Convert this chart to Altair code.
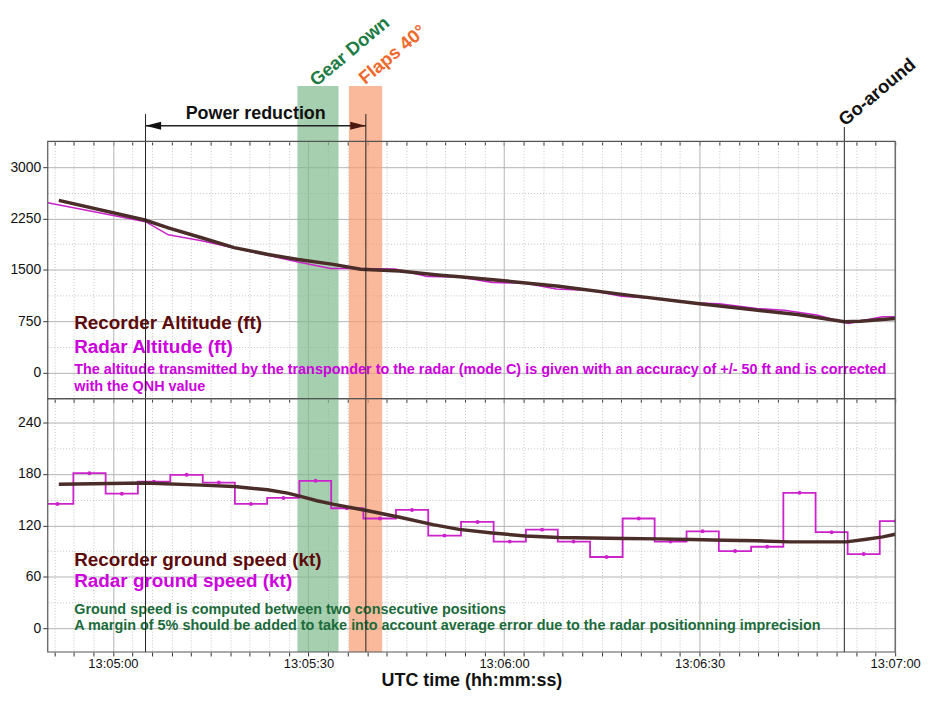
import altair as alt
import pandas as pd

# time axis: seconds after 13:00:00
X_DOMAIN = [290, 420]

# ---------------- Altitude (ft) ----------------
rec_alt_t = [291.7, 304.9, 308.5, 313.6, 318.6, 323.8, 328.4, 333.8, 338.0, 344.0, 350.2,
             353.2, 360.0, 368.4, 378.7, 390.0, 397.9, 405.0, 412.2, 414.6, 420.0]
rec_alt_v = [2514, 2227, 2112, 1968, 1825, 1724, 1652, 1580, 1509, 1484, 1422,
             1398, 1341, 1260, 1135, 1006, 920, 848, 743, 751, 790]

radar_alt_t = [290.0, 305.0, 308.5, 313.6, 318.6, 323.8, 328.4, 333.4, 336.0, 343.3, 348.2,
               353.2, 358.2, 363.3, 368.0, 373.4, 378.0, 383.6, 388.7, 393.0, 398.8, 403.0,
               408.0, 412.8, 418.0, 420.0]
radar_alt_v = [2480, 2203, 2011, 1925, 1820, 1715, 1614, 1519, 1519, 1512, 1404,
               1395, 1317, 1305, 1221, 1200, 1116, 1080, 1020, 1005, 935, 910,
               840, 718, 815, 815]

# ---------------- Ground speed (kt) ----------------
rec_gs_t = [291.7, 304.8, 313.6, 318.6, 323.7, 326.8, 328.8, 331.3, 333.9, 338.9, 344.0,
            349.1, 353.1, 358.2, 363.3, 368.4, 373.4, 378.5, 383.6, 388.7, 393.8, 398.8,
            403.9, 409.0, 412.5, 415.6, 418.1, 420.0]
rec_gs_v = [168, 169.5, 167, 165.3, 161.5, 157.7, 153.8, 148.8, 144.5, 137.3, 129.5,
            120.8, 115.3, 111, 107.6, 105.8, 105.3, 104.6, 104.2, 103.4, 102.6, 101.9,
            100.7, 100.7, 100.7, 103.8, 106.5, 109.6]

radar_gs_t = [286.5, 291.47, 296.39, 301.37, 306.29, 311.31, 316.25, 321.17, 326.15, 331.07,
              335.89, 340.96, 345.88, 350.86, 355.93, 360.87, 365.83, 370.66, 375.73,
              380.66, 385.54, 390.46, 395.44, 400.36, 405.33, 410.25, 415.17, 420.1]
radar_gs_v = [145, 145, 181, 157, 171, 179, 170, 145, 152, 172,
              140, 128, 138, 108, 124, 101, 115, 101, 83,
              128, 101, 113, 90, 95, 158, 112, 86.5, 125]

# ---------------- Events ----------------
band_names = ["Gear Down", "Flaps 40°"]
band_start = [328.3, 336.2]
band_end = [334.6, 341.3]
band_colors = ["#80ba8e", "#f69b6f"]
band_text_colors = ["#1e7b45", "#ee6a2c"]
band_label_t = [331.2, 338.7]

power_t = [305.0, 338.8]          # power reduction start / end
goaround_t = 412.2
goaround_label_t = 412.3

x_ticks = list(range(291, 421, 3))
alt_ticks = [-375, 0, 375, 750, 1125, 1500, 1875, 2250, 2625, 3000, 3375]
gs_ticks = [0, 30, 60, 90, 120, 150, 180, 210, 240]

alt_texts = ["Recorder Altitude (ft)", "Radar Altitude (ft)",
             "The altitude transmitted by the transponder to the radar (mode C) is given with an accuracy of +/- 50 ft and is corrected",
             "with the QNH value"]
gs_texts = ["Recorder ground speed (kt)", "Radar ground speed (kt)",
            "Ground speed is computed between two consecutive positions",
            "A margin of 5% should be added to take into account average error due to the radar positionning imprecision"]

REC_LINE = "#4a2c28"
RADAR_LINE = "#cc22cc"
REC_TXT = "#5c0a0a"
RADAR_TXT = "#cc00dd"
GREEN_TXT = "#1b6b3a"
FRAME = "#555555"
FONT = "Liberation Sans"

W = 853
H_ANN, H_ALT, H_GS = 131, 259, 255

xscale = alt.Scale(domain=X_DOMAIN, nice=False, zero=False)
MAJ_X = "datum.value % 30 === 0"
X_LABEL = ("datum.value % 30 === 0 ? '13:' + (floor(datum.value/60) < 10 ? '0' : '') + floor(datum.value/60)"
           " + ':' + (datum.value % 60 < 10 ? '0' : '') + (datum.value % 60) : ''")

GRID_DASH = {"condition": {"test": MAJ_X, "value": []}, "value": [1, 2]}
GRID_COL = {"condition": {"test": MAJ_X, "value": "#b3b3b3"}, "value": "#c4c4c4"}

# ticks only (bottom of annotation panel = top border of altitude panel)
ann_x_axis = alt.Axis(orient="bottom", values=x_ticks, labels=False, title="", domain=False,
                      tickSize=4, tickColor="#333", grid=False)
# ticks + grid (bottom of altitude panel = divider)
alt_x_axis = alt.Axis(orient="bottom", values=x_ticks, labels=False, title="", domain=False,
                      tickSize=4, tickColor="#333", grid=True, gridDash=GRID_DASH, gridColor=GRID_COL)
# full bottom axis
gs_x_axis = alt.Axis(orient="bottom", values=x_ticks, labelExpr=X_LABEL, title="UTC time (hh:mm:ss)",
                     domain=False, tickSize=4, tickColor="#333", labelOverlap=False, labelFlush=False,
                     labelPadding=2, labelFontSize=13, labelColor="#111",
                     titleFontSize=18, titleFontWeight="bold", titlePadding=1, titleColor="#111",
                     grid=True, gridDash=GRID_DASH, gridColor=GRID_COL)


def y_axis(values, major):
    test = f"datum.value % {major} === 0"
    return alt.Axis(values=values, title="", domain=False, tickSize=5,
                    tickColor={"condition": {"test": test, "value": "#333"}, "value": "transparent"},
                    labelExpr=f"{test} ? format(datum.value, 'd') : ''", labelOverlap=False,
                    labelFlush=False, labelPadding=2, labelFontSize=14, labelColor="#111",
                    gridDash={"condition": {"test": test, "value": []}, "value": [1, 2]},
                    gridColor={"condition": {"test": test, "value": "#b3b3b3"}, "value": "#c4c4c4"})


bands_df = pd.DataFrame({"name": band_names, "t0": band_start, "t1": band_end})
band_color = alt.Color("name:N", scale=alt.Scale(domain=band_names, range=band_colors), legend=None)
lines_df = pd.DataFrame({"t": power_t + [goaround_t]})

# ---------------- annotation panel ----------------
ann_scale = alt.Scale(domain=[0, H_ANN], nice=False, zero=False)


def AX(field):
    return alt.X(field, scale=xscale, axis=ann_x_axis)


def AY(v):
    return alt.Y(datum=v, scale=ann_scale, axis=None)


ann_bands = alt.Chart(bands_df).mark_rect(opacity=0.7).encode(
    x=AX("t0:Q"), x2="t1:Q", y=AY(0), y2=alt.datum(55.7), color=band_color)

ann_power_lines = alt.Chart(pd.DataFrame({"t": power_t})).mark_rule(color="#222", strokeWidth=1).encode(
    x=AX("t:Q"), y=AY(0), y2=alt.datum(27.5))
ann_go_line = alt.Chart(pd.DataFrame({"t": [goaround_t]})).mark_rule(color="#222", strokeWidth=1).encode(
    x=AX("t:Q"), y=AY(0), y2=alt.datum(14.5))

arrow_line = alt.Chart(pd.DataFrame({"t": [power_t[0]], "t2": [power_t[1]]})).mark_rule(
    color="#222", strokeWidth=1.5).encode(x=AX("t:Q"), x2="t2:Q", y=AY(15.7))
arrow_left = alt.Chart(pd.DataFrame({"t": [power_t[0]]})).mark_point(
    shape="M0,0 L3,-0.75 L3,0.75 Z", filled=True, size=110, color="#111", opacity=1).encode(
    x=AX("t:Q"), y=AY(15.7))
arrow_right = alt.Chart(pd.DataFrame({"t": [power_t[1]]})).mark_point(
    shape="M0,0 L-3,-0.75 L-3,0.75 Z", filled=True, size=110, color="#4a1a12", opacity=1).encode(
    x=AX("t:Q"), y=AY(15.7))

power_text = alt.Chart(pd.DataFrame({"t": [(power_t[0] + power_t[1]) / 2], "label": ["Power reduction"]})).mark_text(
    font=FONT, fontSize=18, fontWeight="bold", color="#111", align="center", baseline="alphabetic").encode(
    x=AX("t:Q"), y=AY(23), text="label:N")

ev_df = pd.DataFrame({"t": band_label_t + [goaround_label_t],
                      "label": band_names + ["Go-around"],
                      "c": band_text_colors + ["#111111"],
                      "yy": [54.7, 56.7, 14.7]})
ev_text = alt.Chart(ev_df).mark_text(font=FONT, fontSize=18.5, fontWeight="bold", angle=320,
                                     align="left", baseline="alphabetic").encode(
    x=AX("t:Q"), y=alt.Y("yy:Q", scale=ann_scale, axis=None),
    text="label:N", color=alt.Color("c:N", scale=None))

ann_panel = alt.layer(ann_bands, ann_power_lines, ann_go_line, arrow_line, arrow_left, arrow_right,
                      power_text, ev_text).properties(width=W, height=H_ANN)


def txt(label, t, v, yscale, yaxis, xaxis, color, size):
    return alt.Chart(pd.DataFrame({"t": [t], "v": [v], "label": [label]})).mark_text(
        font=FONT, fontSize=size, fontWeight="bold", color=color, align="left", baseline="alphabetic").encode(
        x=alt.X("t:Q", scale=xscale, axis=xaxis), y=alt.Y("v:Q", scale=yscale, axis=yaxis), text="label:N")


def frame(yscale_dom, yscale, yaxis, xaxis):
    return alt.Chart(pd.DataFrame({"t": [X_DOMAIN[0]], "t2": [X_DOMAIN[1]],
                                   "v": [yscale_dom[0]], "v2": [yscale_dom[1]]})).mark_rect(
        filled=False, stroke=FRAME, strokeWidth=1.2).encode(
        x=alt.X("t:Q", scale=xscale, axis=xaxis), x2="t2:Q",
        y=alt.Y("v:Q", scale=yscale, axis=yaxis), y2="v2:Q")


TX = 294.06

# ---------------- altitude panel ----------------
ALT_DOM = [-380, 3375]
alt_scale = alt.Scale(domain=ALT_DOM, nice=False, zero=False)
xa = alt_x_axis
ya = y_axis(alt_ticks, 750)

alt_bands = alt.Chart(bands_df).mark_rect(opacity=0.7).encode(
    x=alt.X("t0:Q", scale=xscale, axis=xa), x2="t1:Q", color=band_color)
rec_alt = alt.Chart(pd.DataFrame({"t": rec_alt_t, "v": rec_alt_v})).mark_line(
    color=REC_LINE, strokeWidth=3.5, clip=True).encode(
    x=alt.X("t:Q", scale=xscale, axis=xa), y=alt.Y("v:Q", scale=alt_scale, axis=ya))
radar_alt = alt.Chart(pd.DataFrame({"t": radar_alt_t, "v": radar_alt_v})).mark_line(
    color=RADAR_LINE, strokeWidth=1.6, clip=True).encode(
    x=alt.X("t:Q", scale=xscale, axis=xa), y=alt.Y("v:Q", scale=alt_scale, axis=ya))
alt_txt = [
    txt(alt_texts[0], TX, 630, alt_scale, ya, xa, REC_TXT, 19),
    txt(alt_texts[1], TX, 290, alt_scale, ya, xa, RADAR_TXT, 19),
    txt(alt_texts[2], TX, -24, alt_scale, ya, xa, RADAR_TXT, 14.5),
    txt(alt_texts[3], TX, -264, alt_scale, ya, xa, RADAR_TXT, 14.5),
]
alt_rules = alt.Chart(lines_df).mark_rule(color="#222", strokeWidth=1).encode(
    x=alt.X("t:Q", scale=xscale, axis=xa))

alt_panel = alt.layer(alt_bands, radar_alt, rec_alt, *alt_txt, alt_rules,
                      frame(ALT_DOM, alt_scale, ya, xa)).properties(width=W, height=H_ALT)

# ---------------- ground speed panel ----------------
GS_DOM = [-28, 268]
gs_scale = alt.Scale(domain=GS_DOM, nice=False, zero=False)
xg = gs_x_axis
yg = y_axis(gs_ticks, 60)

gs_bands = alt.Chart(bands_df).mark_rect(opacity=0.7).encode(
    x=alt.X("t0:Q", scale=xscale, axis=xg), x2="t1:Q", color=band_color)
radar_df = pd.DataFrame({"t": radar_gs_t, "v": radar_gs_v})
radar_gs = alt.Chart(radar_df).mark_line(color=RADAR_LINE, strokeWidth=1.8, interpolate="step", clip=True).encode(
    x=alt.X("t:Q", scale=xscale, axis=xg), y=alt.Y("v:Q", scale=gs_scale, axis=yg))
radar_pts = alt.Chart(radar_df).mark_point(color=RADAR_LINE, filled=True, size=16, opacity=1, clip=True).encode(
    x=alt.X("t:Q", scale=xscale, axis=xg), y=alt.Y("v:Q", scale=gs_scale, axis=yg))
rec_gs = alt.Chart(pd.DataFrame({"t": rec_gs_t, "v": rec_gs_v})).mark_line(
    color=REC_LINE, strokeWidth=3.5, clip=True).encode(
    x=alt.X("t:Q", scale=xscale, axis=xg), y=alt.Y("v:Q", scale=gs_scale, axis=yg))
gs_txt = [
    txt(gs_texts[0], TX, 72.0, gs_scale, yg, xg, REC_TXT, 19),
    txt(gs_texts[1], TX, 47.5, gs_scale, yg, xg, RADAR_TXT, 19),
    txt(gs_texts[2], TX, 16.9, gs_scale, yg, xg, GREEN_TXT, 14.5),
    txt(gs_texts[3], TX, -2.3, gs_scale, yg, xg, GREEN_TXT, 14.5),
]
gs_rules = alt.Chart(lines_df).mark_rule(color="#222", strokeWidth=1).encode(
    x=alt.X("t:Q", scale=xscale, axis=xg))

gs_panel = alt.layer(gs_bands, radar_gs, radar_pts, rec_gs, *gs_txt, gs_rules,
                     frame(GS_DOM, gs_scale, yg, xg)).properties(width=W, height=H_GS)

chart = alt.vconcat(ann_panel, alt_panel, gs_panel, spacing=0, bounds="flush").properties(
    padding={"left": 1, "top": 0, "right": 0, "bottom": 0}
).configure(font=FONT).configure_view(stroke="transparent")

chart.save("out.html", embed_options={"renderer": "svg", "actions": False})
